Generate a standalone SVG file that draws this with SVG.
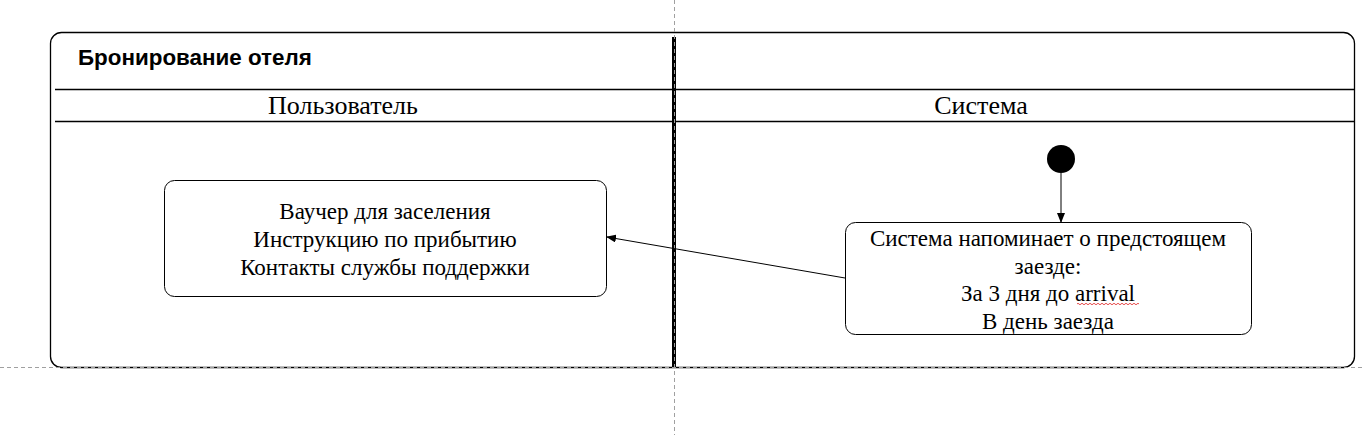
<svg xmlns="http://www.w3.org/2000/svg" width="1362" height="435" viewBox="0 0 1362 435">
<style>
.serif{font-family:"Liberation Serif","Times New Roman",serif;fill:#000}
.t{font-size:23px;text-anchor:middle}
.h{font-size:26px;text-anchor:middle}
.title{font-family:"Liberation Sans",Arial,sans-serif;font-weight:bold;font-size:22.4px;fill:#000}
.box{fill:#fff;stroke:#000;stroke-width:1}
.line{stroke:#000;stroke-width:1.3;fill:none}
.guide{stroke:#a0a0a0;stroke-width:1;stroke-dasharray:4 3;fill:none}
</style>
<defs>
<marker id="arr" markerWidth="10" markerHeight="8" refX="9" refY="4" orient="auto" markerUnits="userSpaceOnUse">
<path d="M0,0 L10,4 L0,8 Z" fill="#000"/>
</marker>
</defs>
<rect width="1362" height="435" fill="#fff"/>
<g id="frame">
<rect x="50.5" y="32.5" width="1304" height="335" rx="11" class="line"/>
<line x1="55" y1="89.5" x2="1354" y2="89.5" class="line"/>
<line x1="55" y1="121.5" x2="1354" y2="121.5" class="line"/>
<line x1="674" y1="37" x2="674" y2="367" stroke="#000" stroke-width="4"/>
<text x="78" y="65" class="title">Бронирование отеля</text>
<text x="343" y="114" class="serif h">Пользователь</text>
<text x="981" y="114" class="serif h">Система</text>
</g>
<g id="guides">
<line x1="674.5" y1="0" x2="674.5" y2="435" class="guide"/>
<line x1="0" y1="367.5" x2="1362" y2="367.5" class="guide"/>
</g>
<g id="user-box">
<rect x="164.5" y="180.5" width="442" height="116" rx="10" class="box"/>
<text x="385" y="219" class="serif t">Ваучер для заселения</text>
<text x="385" y="247" class="serif t">Инструкцию по прибытию</text>
<text x="385" y="275" class="serif t">Контакты службы поддержки</text>
</g>
<g id="start">
<circle cx="1061" cy="159" r="14" fill="#000"/>
</g>
<g id="system-box">
<rect x="845.5" y="222.5" width="406" height="112" rx="10" class="box"/>
<text x="1048" y="246" class="serif t">Система напоминает о предстоящем</text>
<text x="1048" y="274" class="serif t">заезде:</text>
<text x="1048" y="301" class="serif t">За 3 дня до arrival</text>
<text x="1048" y="329" class="serif t">В день заезда</text>
<path d="M1077,304 q1,-1.5 2,0 t2,0 t2,0 t2,0 t2,0 t2,0 t2,0 t2,0 t2,0 t2,0 t2,0 t2,0 t2,0 t2,0 t2,0 t2,0 t2,0 t2,0 t2,0 t2,0 t2,0 t2,0 t2,0 t2,0 t2,0 t2,0 t2,0 t2,0 t2,0 t2,0 t2,0" fill="none" stroke="#e02020" stroke-width="0.8"/>
</g>
<g id="connectors">
<line x1="1061" y1="173" x2="1061" y2="222" stroke="#000" stroke-width="1" marker-end="url(#arr)"/>
<line x1="845" y1="278" x2="607" y2="237" stroke="#000" stroke-width="1" marker-end="url(#arr)"/>
</g>
</svg>
